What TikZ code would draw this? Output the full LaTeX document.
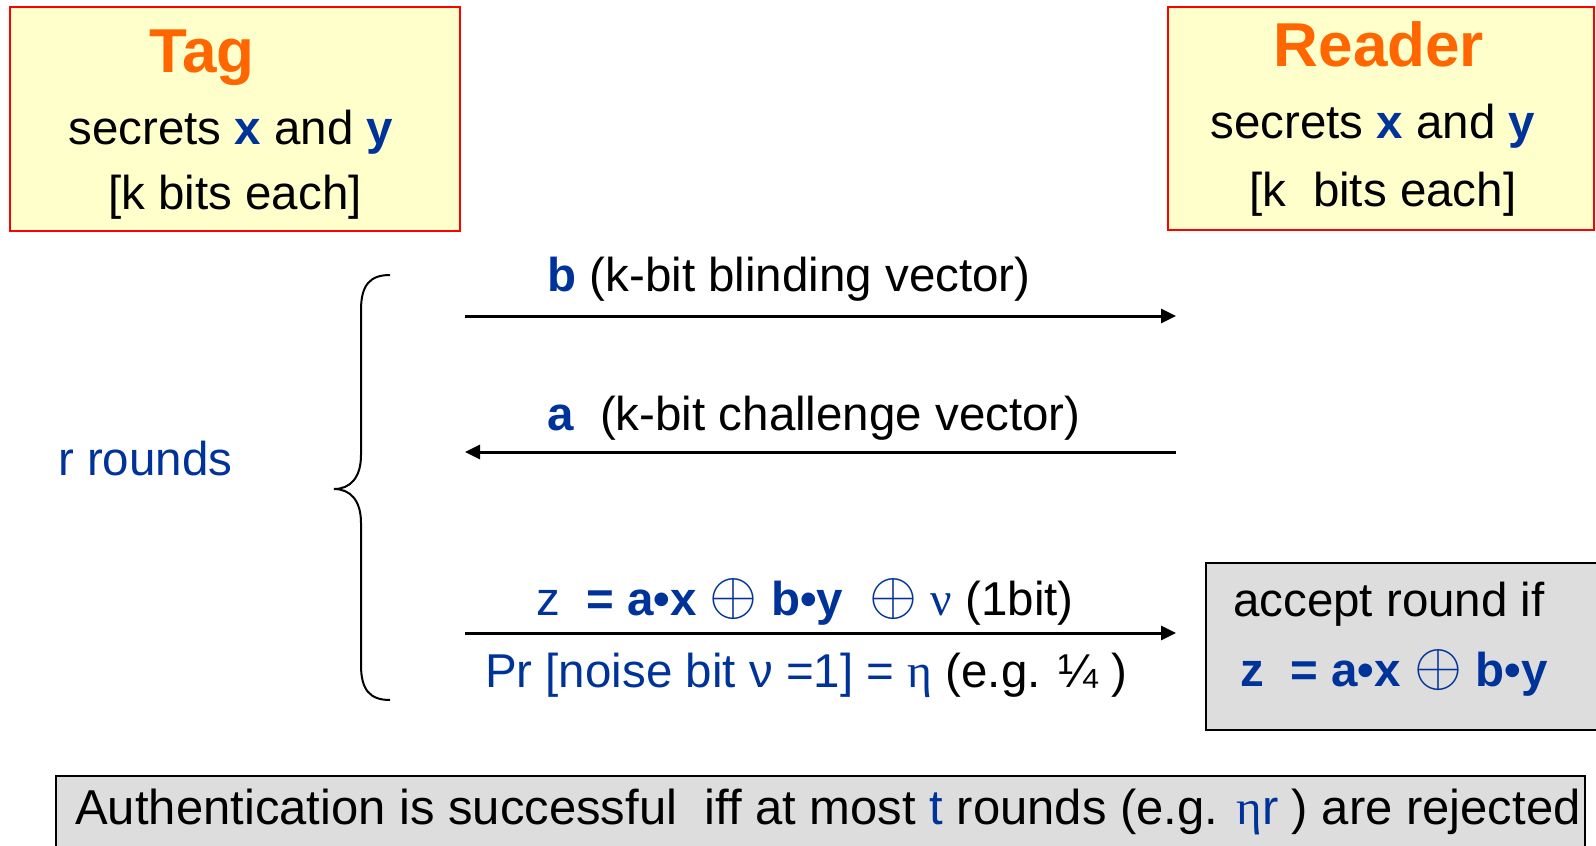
\documentclass[tikz,border=0pt]{standalone}
\usepackage{fix-cm}
\usepackage{fontspec}
\setmainfont{Liberation Sans}
\newfontfamily\grk{Liberation Serif}
\usetikzlibrary{arrows.meta}
\definecolor{tblue}{HTML}{003399}
\definecolor{torange}{HTML}{FF6600}
\definecolor{tyellow}{HTML}{FFFFCC}
\definecolor{tgray}{HTML}{DDDDDD}
\tikzset{
  partybox/.style={draw=red, line width=2pt, fill=tyellow},
  graybox/.style={draw=black, line width=1.5pt, fill=tgray},
  txt/.style={anchor=base, inner sep=0pt, font=\fontsize{47.5}{57}\selectfont},
  ttl/.style={anchor=base, inner sep=0pt, text=torange, font=\fontsize{62}{70}\selectfont\bfseries},
  msg/.style={line width=3pt, -{Triangle[length=15pt,width=14pt]}},
}
\newcommand{\bl}[1]{\textcolor{tblue}{#1}}
\newcommand{\op}{\raisebox{0.5pt}{\scalebox{1.3}{$\oplus$}}}
\begin{document}
\begin{tikzpicture}[x=1pt,y=-1pt]
\useasboundingbox (0,0) rectangle (1596,846);
% party boxes
\path[partybox] (10,7) rectangle (460,231);
\node[ttl] (tag) at (202,72) {Tag};
\node[txt] (tags) at (231,144) {secrets \bl{\bfseries x} and \bl{\bfseries y}};
\node[txt] (tagk) at (235,209) {[k bits each]};
\path[partybox] (1168,7) rectangle (1594,230);
\node[ttl] (reader) at (1379,66) {Reader};
\node[txt] (reads) at (1373,138) {secrets \bl{\bfseries x} and \bl{\bfseries y}};
\node[txt] (readk) at (1383,206) {[k\ \ bits each]};
% messages
\coordinate (l1) at (465,316); \coordinate (r1) at (1176,316);
\coordinate (l2) at (465,452); \coordinate (r2) at (1176,452);
\coordinate (l3) at (465,633); \coordinate (r3) at (1176,633);
\draw[msg] (l1) -- (r1);
\draw[msg] (r2) -- (l2);
\draw[msg] (l3) -- (r3);
\node[txt] (m1) at (789,291) {\bl{\bfseries b} (k-bit blinding vector)};
\node[txt] (m2) at (814,430) {\bl{\bfseries a}\ \ (k-bit challenge vector)};
\node[txt] (m3) at (805,615) {\bl{z\ \ \bfseries = a•x \op{} b•y}\ \ \bl{\op{} {\grk ν}} (1bit)};
\node[txt] (m4) at (806,687) {\bl{Pr [noise bit ν =1] = {\grk η}} (e.g. ¼ )};
% brace
\draw[line width=2pt] (390,275) .. controls (370,275) and (361,285) .. (361,310) -- (361,455)
  .. controls (361,478) and (350,489) .. (334,489)
  .. controls (350,489) and (361,500) .. (361,523) -- (361,665)
  .. controls (361,690) and (370,700) .. (390,700);
\node[txt, anchor=base west] (rr) at (58,475) {\bl{r rounds}};
% accept box
\path[graybox] (1206,563) rectangle (1600,730);
\node[txt] (acc1) at (1389,616) {accept round if};
\node[txt] (acc2) at (1394,686) {\bl{\bfseries z\ \ = a•x \op{} b•y}};
% bottom box
\path[graybox] (56,776) rectangle (1585,850);
\node[txt, font=\fontsize{49}{58}\selectfont] (auth) at (828,824) {Authentication is successful\ \ iff at most \bl{t} rounds (e.g. \bl{{\grk η}r} ) are rejected};
\end{tikzpicture}
\end{document}
